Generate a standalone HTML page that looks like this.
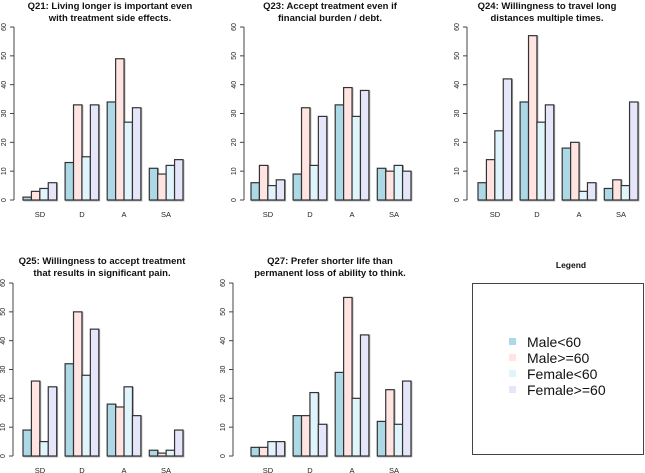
<!DOCTYPE html>
<html><head><meta charset="utf-8"><style>
body{margin:0;background:#fff}
svg{display:block;font-family:"Liberation Sans",Arial,sans-serif}
.t{font-size:9.5px;font-weight:bold;text-anchor:middle;fill:#111}
.y{font-size:7px;text-anchor:middle;fill:#222}
.x{font-size:7.5px;text-anchor:middle;fill:#222}
</style></head><body>
<svg id="s" width="645" height="473" viewBox="0 0 645 473" xmlns="http://www.w3.org/2000/svg">
<text class="t" x="110" y="9">Q21: Living longer is important even</text>
<text class="t" x="110" y="21">with treatment side effects.</text>
<text class="t" x="330" y="9">Q23: Accept treatment even if</text>
<text class="t" x="330" y="21">financial burden / debt.</text>
<text class="t" x="547" y="9">Q24: Willingness to travel long</text>
<text class="t" x="547" y="21">distances multiple times.</text>
<text class="t" x="102" y="264">Q25: Willingness to accept treatment</text>
<text class="t" x="102" y="276">that results in significant pain.</text>
<text class="t" x="330" y="264">Q27: Prefer shorter life than</text>
<text class="t" x="330" y="276">permanent loss of ability to think.</text>

<g id="p1" transform="translate(14,200)">
<text class="y" transform="translate(-8,0) rotate(-90)">0</text>
<text class="y" transform="translate(-8,-28.8) rotate(-90)">10</text>
<text class="y" transform="translate(-8,-57.7) rotate(-90)">20</text>
<text class="y" transform="translate(-8,-86.5) rotate(-90)">30</text>
<text class="y" transform="translate(-8,-115.3) rotate(-90)">40</text>
<text class="y" transform="translate(-8,-144.2) rotate(-90)">50</text>
<text class="y" transform="translate(-8,-173) rotate(-90)">60</text>
</g>
<g id="p2" transform="translate(244,200)">
<text class="y" transform="translate(-8,0) rotate(-90)">0</text>
<text class="y" transform="translate(-8,-28.8) rotate(-90)">10</text>
<text class="y" transform="translate(-8,-57.7) rotate(-90)">20</text>
<text class="y" transform="translate(-8,-86.5) rotate(-90)">30</text>
<text class="y" transform="translate(-8,-115.3) rotate(-90)">40</text>
<text class="y" transform="translate(-8,-144.2) rotate(-90)">50</text>
<text class="y" transform="translate(-8,-173) rotate(-90)">60</text>
</g>
<g id="p3" transform="translate(467,200)">
<text class="y" transform="translate(-8,0) rotate(-90)">0</text>
<text class="y" transform="translate(-8,-28.8) rotate(-90)">10</text>
<text class="y" transform="translate(-8,-57.7) rotate(-90)">20</text>
<text class="y" transform="translate(-8,-86.5) rotate(-90)">30</text>
<text class="y" transform="translate(-8,-115.3) rotate(-90)">40</text>
<text class="y" transform="translate(-8,-144.2) rotate(-90)">50</text>
<text class="y" transform="translate(-8,-173) rotate(-90)">60</text>
</g>
<g id="p4" transform="translate(13,456)">
<text class="y" transform="translate(-8,0) rotate(-90)">0</text>
<text class="y" transform="translate(-8,-28.8) rotate(-90)">10</text>
<text class="y" transform="translate(-8,-57.7) rotate(-90)">20</text>
<text class="y" transform="translate(-8,-86.5) rotate(-90)">30</text>
<text class="y" transform="translate(-8,-115.3) rotate(-90)">40</text>
<text class="y" transform="translate(-8,-144.2) rotate(-90)">50</text>
<text class="y" transform="translate(-8,-173) rotate(-90)">60</text>
</g>
<g id="p5" transform="translate(233,456)">
<text class="y" transform="translate(-8,0) rotate(-90)">0</text>
<text class="y" transform="translate(-8,-28.8) rotate(-90)">10</text>
<text class="y" transform="translate(-8,-57.7) rotate(-90)">20</text>
<text class="y" transform="translate(-8,-86.5) rotate(-90)">30</text>
<text class="y" transform="translate(-8,-115.3) rotate(-90)">40</text>
<text class="y" transform="translate(-8,-144.2) rotate(-90)">50</text>
<text class="y" transform="translate(-8,-173) rotate(-90)">60</text>
</g>

<text class="x" x="40" y="217">SD</text><text class="x" x="82" y="217">D</text><text class="x" x="124" y="217">A</text><text class="x" x="166" y="217">SA</text>
<text class="x" x="268" y="217">SD</text><text class="x" x="310" y="217">D</text><text class="x" x="352" y="217">A</text><text class="x" x="394" y="217">SA</text>
<text class="x" x="495" y="217">SD</text><text class="x" x="537" y="217">D</text><text class="x" x="579" y="217">A</text><text class="x" x="621" y="217">SA</text>
<text class="x" x="40" y="473">SD</text><text class="x" x="82" y="473">D</text><text class="x" x="124" y="473">A</text><text class="x" x="166" y="473">SA</text>
<text class="x" x="268" y="473">SD</text><text class="x" x="310" y="473">D</text><text class="x" x="352" y="473">A</text><text class="x" x="394" y="473">SA</text>

<text class="t" x="571" y="268" style="font-size:8.5px">Legend</text>
<rect x="472.5" y="283.5" width="171" height="171" fill="none" stroke="#444" stroke-width="1"/>
<rect x="509" y="338" width="7" height="7" fill="#add8e6"/>
<rect x="509" y="354" width="7" height="7" fill="#ffe4e1"/>
<rect x="509" y="370" width="7" height="7" fill="#e0f4fb"/>
<rect x="509" y="386" width="7" height="7" fill="#e6e6fa"/>
<g style="font-size:14px;fill:#111">
<text x="527" y="347">Male&lt;60</text>
<text x="527" y="363">Male&gt;=60</text>
<text x="527" y="379">Female&lt;60</text>
<text x="527" y="395">Female&gt;=60</text>
</g>
</svg>
<script>
var NS="http://www.w3.org/2000/svg";
var cols=["#add8e6","#ffe4e1","#e0f4fb","#e6e6fa"];
var P=[["p1",9],["p2",7],["p3",11],["p4",10],["p5",18]];
var D=[
[[1,3,4,6],[13,33,15,33],[34,49,27,32],[11,9,12,14]],
[[6,12,5,7],[9,32,12,29],[33,39,29,38],[11,10,12,10]],
[[6,14,24,42],[34,57,27,33],[18,20,3,6],[4,7,5,34]],
[[9,26,5,24],[32,50,28,44],[18,17,24,14],[2,1,2,9]],
[[3,3,5,5],[14,14,22,11],[29,55,20,42],[12,23,11,26]]];
var k=2.883,w=8.42;
P.forEach(function(p,i){
 var g=document.getElementById(p[0]);
 function el(n,a){var e=document.createElementNS(NS,n);for(var q in a)e.setAttribute(q,a[q]);g.appendChild(e);}
 el("line",{x1:0,y1:0,x2:0,y2:-173,stroke:"#444","stroke-width":1});
 for(var t=0;t<=6;t++)el("line",{x1:-4,x2:0,y1:-t*28.83,y2:-t*28.83,stroke:"#444","stroke-width":1});
 for(var gi=0;gi<4;gi++)for(var b=0;b<4;b++){
  var v=D[i][gi][b],x=p[1]+gi*5*w+b*w,h=v*k;
  el("rect",{x:x+0.8,y:-h+0.8,width:w,height:h,fill:"none",stroke:"#aaa","stroke-width":1.2});
  el("rect",{x:x,y:-h,width:w,height:h,fill:cols[b],stroke:"#333","stroke-width":1.2});
 }
});
</script>
</body></html>
